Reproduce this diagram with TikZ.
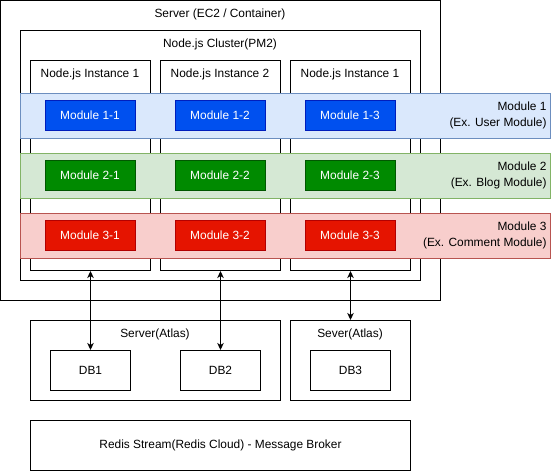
\documentclass[tikz,border=0pt]{standalone}
\usepackage{fontspec}
\setmainfont{Liberation Sans}
\usetikzlibrary{arrows.meta}
\definecolor{bandBF}{HTML}{DAE8FC}\definecolor{bandBD}{HTML}{6C8EBF}
\definecolor{bandGF}{HTML}{D5E8D4}\definecolor{bandGD}{HTML}{82B366}
\definecolor{bandRF}{HTML}{F8CECC}\definecolor{bandRD}{HTML}{B85450}
\definecolor{modBF}{HTML}{0050EF}\definecolor{modBD}{HTML}{001DBC}
\definecolor{modGF}{HTML}{008A00}\definecolor{modGD}{HTML}{005700}
\definecolor{modRF}{HTML}{E51400}\definecolor{modRD}{HTML}{B20000}
\begin{document}
\begin{tikzpicture}[x=1pt,y=-1pt,line width=1pt,
  font=\fontsize{11.9}{15.2}\selectfont,
  box/.style={draw=black,fill=white,anchor=north west,inner sep=0pt},
  ttl/.style={inner sep=0pt,anchor=center},
  band/.style={anchor=north west,inner sep=0pt,minimum width=530,minimum height=45},
  mod/.style={anchor=center,inner sep=0pt,minimum width=90,minimum height=30,text=white},
  bandlbl/.style={anchor=east,align=right,inner sep=0pt},
  arr/.style={{Stealth[length=7pt,width=6.5pt,inset=2pt]}-{Stealth[length=7pt,width=6.5pt,inset=2pt]},line width=1pt}
]
\useasboundingbox (0,0) rectangle (551,471);
% server and cluster
\node[box,minimum width=440,minimum height=300] (srv) at (0,0) {};
\node[ttl] (srvt) at (220,14.5) {Server (EC2 / Container)};
\node[box,minimum width=400,minimum height=250] (cluster) at (20,30) {};
\node[ttl] (clut) at (220,44) {Node.js Cluster(PM2)};
% instances
\node[box,minimum width=120,minimum height=210] (inst1) at (30,60) {};
\node[box,minimum width=120,minimum height=210] (inst2) at (160,60) {};
\node[box,minimum width=120,minimum height=210] (inst3) at (290,60) {};
\node[ttl] (inst1t) at (90,74.5) {Node.js Instance 1};
\node[ttl] (inst2t) at (220,74.5) {Node.js Instance 2};
\node[ttl] (inst3t) at (350,74.5) {Node.js Instance 1};
% bands
\node[band,fill=bandBF,draw=bandBD] (band1) at (20,92.5) {};
\node[band,fill=bandGF,draw=bandGD] (band2) at (20,152.5) {};
\node[band,fill=bandRF,draw=bandRD] (band3) at (20,212.5) {};
\node[bandlbl] (band1l) at ([xshift=-4pt]band1.east) {Module 1\\(Ex. User Module)};
\node[bandlbl] (band2l) at ([xshift=-4pt]band2.east) {Module 2\\(Ex. Blog Module)};
\node[bandlbl] (band3l) at ([xshift=-4pt]band3.east) {Module 3\\(Ex. Comment Module)};
% modules
\node[mod,fill=modBF,draw=modBD] (m11) at (90,115) {Module 1-1};
\node[mod,fill=modBF,draw=modBD] (m12) at (220,115) {Module 1-2};
\node[mod,fill=modBF,draw=modBD] (m13) at (350,115) {Module 1-3};
\node[mod,fill=modGF,draw=modGD] (m21) at (90,175) {Module 2-1};
\node[mod,fill=modGF,draw=modGD] (m22) at (220,175) {Module 2-2};
\node[mod,fill=modGF,draw=modGD] (m23) at (350,175) {Module 2-3};
\node[mod,fill=modRF,draw=modRD] (m31) at (90,235) {Module 3-1};
\node[mod,fill=modRF,draw=modRD] (m32) at (220,235) {Module 3-2};
\node[mod,fill=modRF,draw=modRD] (m33) at (350,235) {Module 3-3};
% atlas servers
\node[box,minimum width=250,minimum height=80] (atlas1) at (30,320) {};
\node[ttl] (atlas1t) at (155,334) {Server(Atlas)};
\node[box,minimum width=120,minimum height=80] (atlas2) at (290,320) {};
\node[ttl] (atlas2t) at (350,334) {Sever(Atlas)};
\node[box,minimum width=80,minimum height=40] (db1) at (50,350) {};
\node[ttl] at (db1.center) {DB1};
\node[box,minimum width=80,minimum height=40] (db2) at (180,350) {};
\node[ttl] at (db2.center) {DB2};
\node[box,minimum width=80,minimum height=40] (db3) at (310,350) {};
\node[ttl] at (db3.center) {DB3};
% redis
\node[box,minimum width=380,minimum height=50] (redis) at (30,420) {};
\node[ttl] at (redis.center) {Redis Stream(Redis Cloud) - Message Broker};
% connectors
\draw[arr] (inst1.south) -- (db1.north);
\draw[arr] (inst2.south) -- (db2.north);
\draw[arr] (inst3.south) -- (atlas2.north);
\end{tikzpicture}
\end{document}
